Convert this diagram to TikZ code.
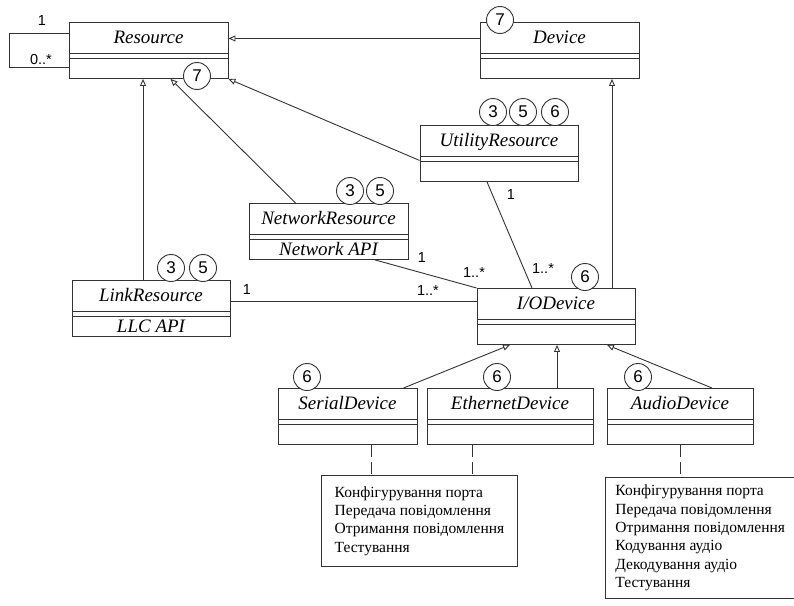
\documentclass[tikz,border=0pt]{standalone}
\usepackage{fontspec}
\setmainfont{Liberation Serif}
\newfontfamily\labelfont{Liberation Sans}
\usetikzlibrary{arrows.meta}
\tikzset{
  class box/.style={
    rectangle, draw=black!80, line width=0.9pt, fill=white,
    minimum width=#1, inner xsep=0pt, inner ysep=0pt,
    text height=21pt, text depth=35pt, anchor=north,
    font=\fontsize{19}{22}\selectfont\itshape,
    path picture={
      \draw[black!80, line width=0.9pt]
      ([yshift=-31pt]path picture bounding box.north west) -- ([yshift=-31pt]path picture bounding box.north east)
      ([yshift=-36pt]path picture bounding box.north west) -- ([yshift=-36pt]path picture bounding box.north east);
    }
  },
  api text/.style={
    inner sep=0pt, anchor=base, font=\fontsize{19}{22}\selectfont\itshape
  },
  badge/.style={
    circle, draw=black!80, line width=0.9pt, fill=white, inner sep=0pt,
    minimum size=27pt, font=\labelfont\fontsize{17}{17}\selectfont
  },
  mult/.style={
    inner sep=0pt, font=\labelfont\fontsize{14.5}{14.5}\selectfont
  },
  note box/.style={
    rectangle, draw=black!80, line width=0.9pt, anchor=north west, align=left,
    inner xsep=13pt, inner ysep=0pt, font=\fontsize{15.5}{18.3}\selectfont
  },
  inherit/.style={
    draw=black!80, line width=0.9pt, -{Triangle[open, length=7pt, width=6pt]}
  },
  assoc/.style={draw=black!80, line width=0.9pt},
  note link/.style={draw=black!80, line width=0.9pt, dash pattern=on 12pt off 5pt}
}
\begin{document}
\begin{tikzpicture}[x=1pt, y=-1pt]
\useasboundingbox (0,0) rectangle (794,605);

% ------------------------------------------------
% top row: Resource, Device
% ------------------------------------------------
\node[class box=159pt] (res) at (148.5, 22) {Resource};
\node[class box=159pt] (dev) at (559.5, 22) {Device};

% ------------------------------------------------
% resources
% ------------------------------------------------
\node[class box=158pt] (util) at (499, 125) {UtilityResource};
\node[class box=159pt] (net)  at (328.5, 203) {NetworkResource};
\node[api text]        (netapi) at ([yshift=-52pt]net.north) {Network API};
\node[class box=158pt] (link) at (151, 280) {LinkResource};
\node[api text]        (linkapi) at ([yshift=-52pt]link.north) {LLC API};

% ------------------------------------------------
% devices
% ------------------------------------------------
\node[class box=158pt] (io)  at (556, 288) {I/ODevice};
\node[class box=139pt] (ser) at (347.5, 388) {SerialDevice};
\node[class box=166pt] (eth) at (510, 388) {EthernetDevice};
\node[class box=146pt] (aud) at (680, 388) {AudioDevice};

% ------------------------------------------------
% notes
% ------------------------------------------------
\node[note box, minimum width=196pt, minimum height=91pt] (note1) at (321, 475)
  {Конфігурування порта\\Передача повідомлення\\Отримання повідомлення\\Тестування};
\node[note box, minimum width=188pt, minimum height=121pt, inner xsep=10pt] (note2) at (605, 477)
  {Конфігурування порта\\Передача повідомлення\\Отримання повідомлення\\Кодування аудіо\\Декодування аудіо\\Тестування};

% ------------------------------------------------
% generalizations
% ------------------------------------------------
\draw[inherit] ([yshift=12pt]dev.west) -- ([yshift=12pt]dev.west -| res.east);
\draw[inherit] ([xshift=-8pt]link.north) -- ([xshift=-8pt]link.north |- res.south);
\draw[inherit] ([xshift=-33pt]net.north) -- ([xshift=22pt]res.south);
\draw[inherit] ([yshift=-7pt]util.west) -- (res.south east);
\draw[inherit] ([xshift=56pt]io.north) -- ([xshift=56pt]io.north |- dev.south);
\draw[inherit] ([xshift=56pt]ser.north) -- ([xshift=-46pt]io.south);
\draw[inherit] ([xshift=47pt]eth.north) -- ([xshift=47pt]eth.north |- io.south);
\draw[inherit] ([xshift=32pt]aud.north) -- ([xshift=51pt]io.south);

% ------------------------------------------------
% associations
% ------------------------------------------------
\draw[assoc] ([yshift=17pt]res.west) -- ++(-59,0) |- ([yshift=-17pt]res.west);
\draw[assoc] ([yshift=7pt]link.east) -- ([yshift=7pt]link.east -| io.west);
\draw[assoc] ([xshift=46.5pt]net.south) -- (io.north west);
\draw[assoc] ([xshift=-12pt]util.south) -- ([xshift=-24pt]io.north);
\node[mult] (m1)  at (42, 21)  {1};
\node[mult] (m2)  at (41, 60)  {0..*};
\node[mult] (m3)  at (247, 290) {1};
\node[mult] (m4)  at (428, 291) {1..*};
\node[mult] (m5)  at (422, 258) {1};
\node[mult] (m6)  at (474, 273) {1..*};
\node[mult] (m7)  at (511, 195) {1};
\node[mult] (m8)  at (543, 269) {1..*};

% ------------------------------------------------
% note links
% ------------------------------------------------
\draw[note link] ([xshift=24pt]ser.south) -- ([xshift=24pt]ser.south |- note1.north);
\draw[note link] ([xshift=-38pt]eth.south) -- ([xshift=-38pt]eth.south |- note1.north);
\draw[note link] (aud.south) -- (aud.south |- note2.north);

% ------------------------------------------------
% badges
% ------------------------------------------------
\node[badge] (bres)  at (197, 76)  {7};
\node[badge] (bdev)  at (500, 20)  {7};
\node[badge] (butil3) at (493, 112) {3};
\node[badge] (butil5) at (523, 112) {5};
\node[badge] (butil6) at (555, 112) {6};
\node[badge] (bnet3) at (350, 191) {3};
\node[badge] (bnet5) at (380, 191) {5};
\node[badge] (blink3) at (171, 268) {3};
\node[badge] (blink5) at (203, 268) {5};
\node[badge] (bio)   at (585, 277) {6};
\node[badge] (bser)  at (307, 377) {6};
\node[badge] (beth)  at (497, 377) {6};
\node[badge] (baud)  at (638, 377) {6};
\end{tikzpicture}
\end{document}
